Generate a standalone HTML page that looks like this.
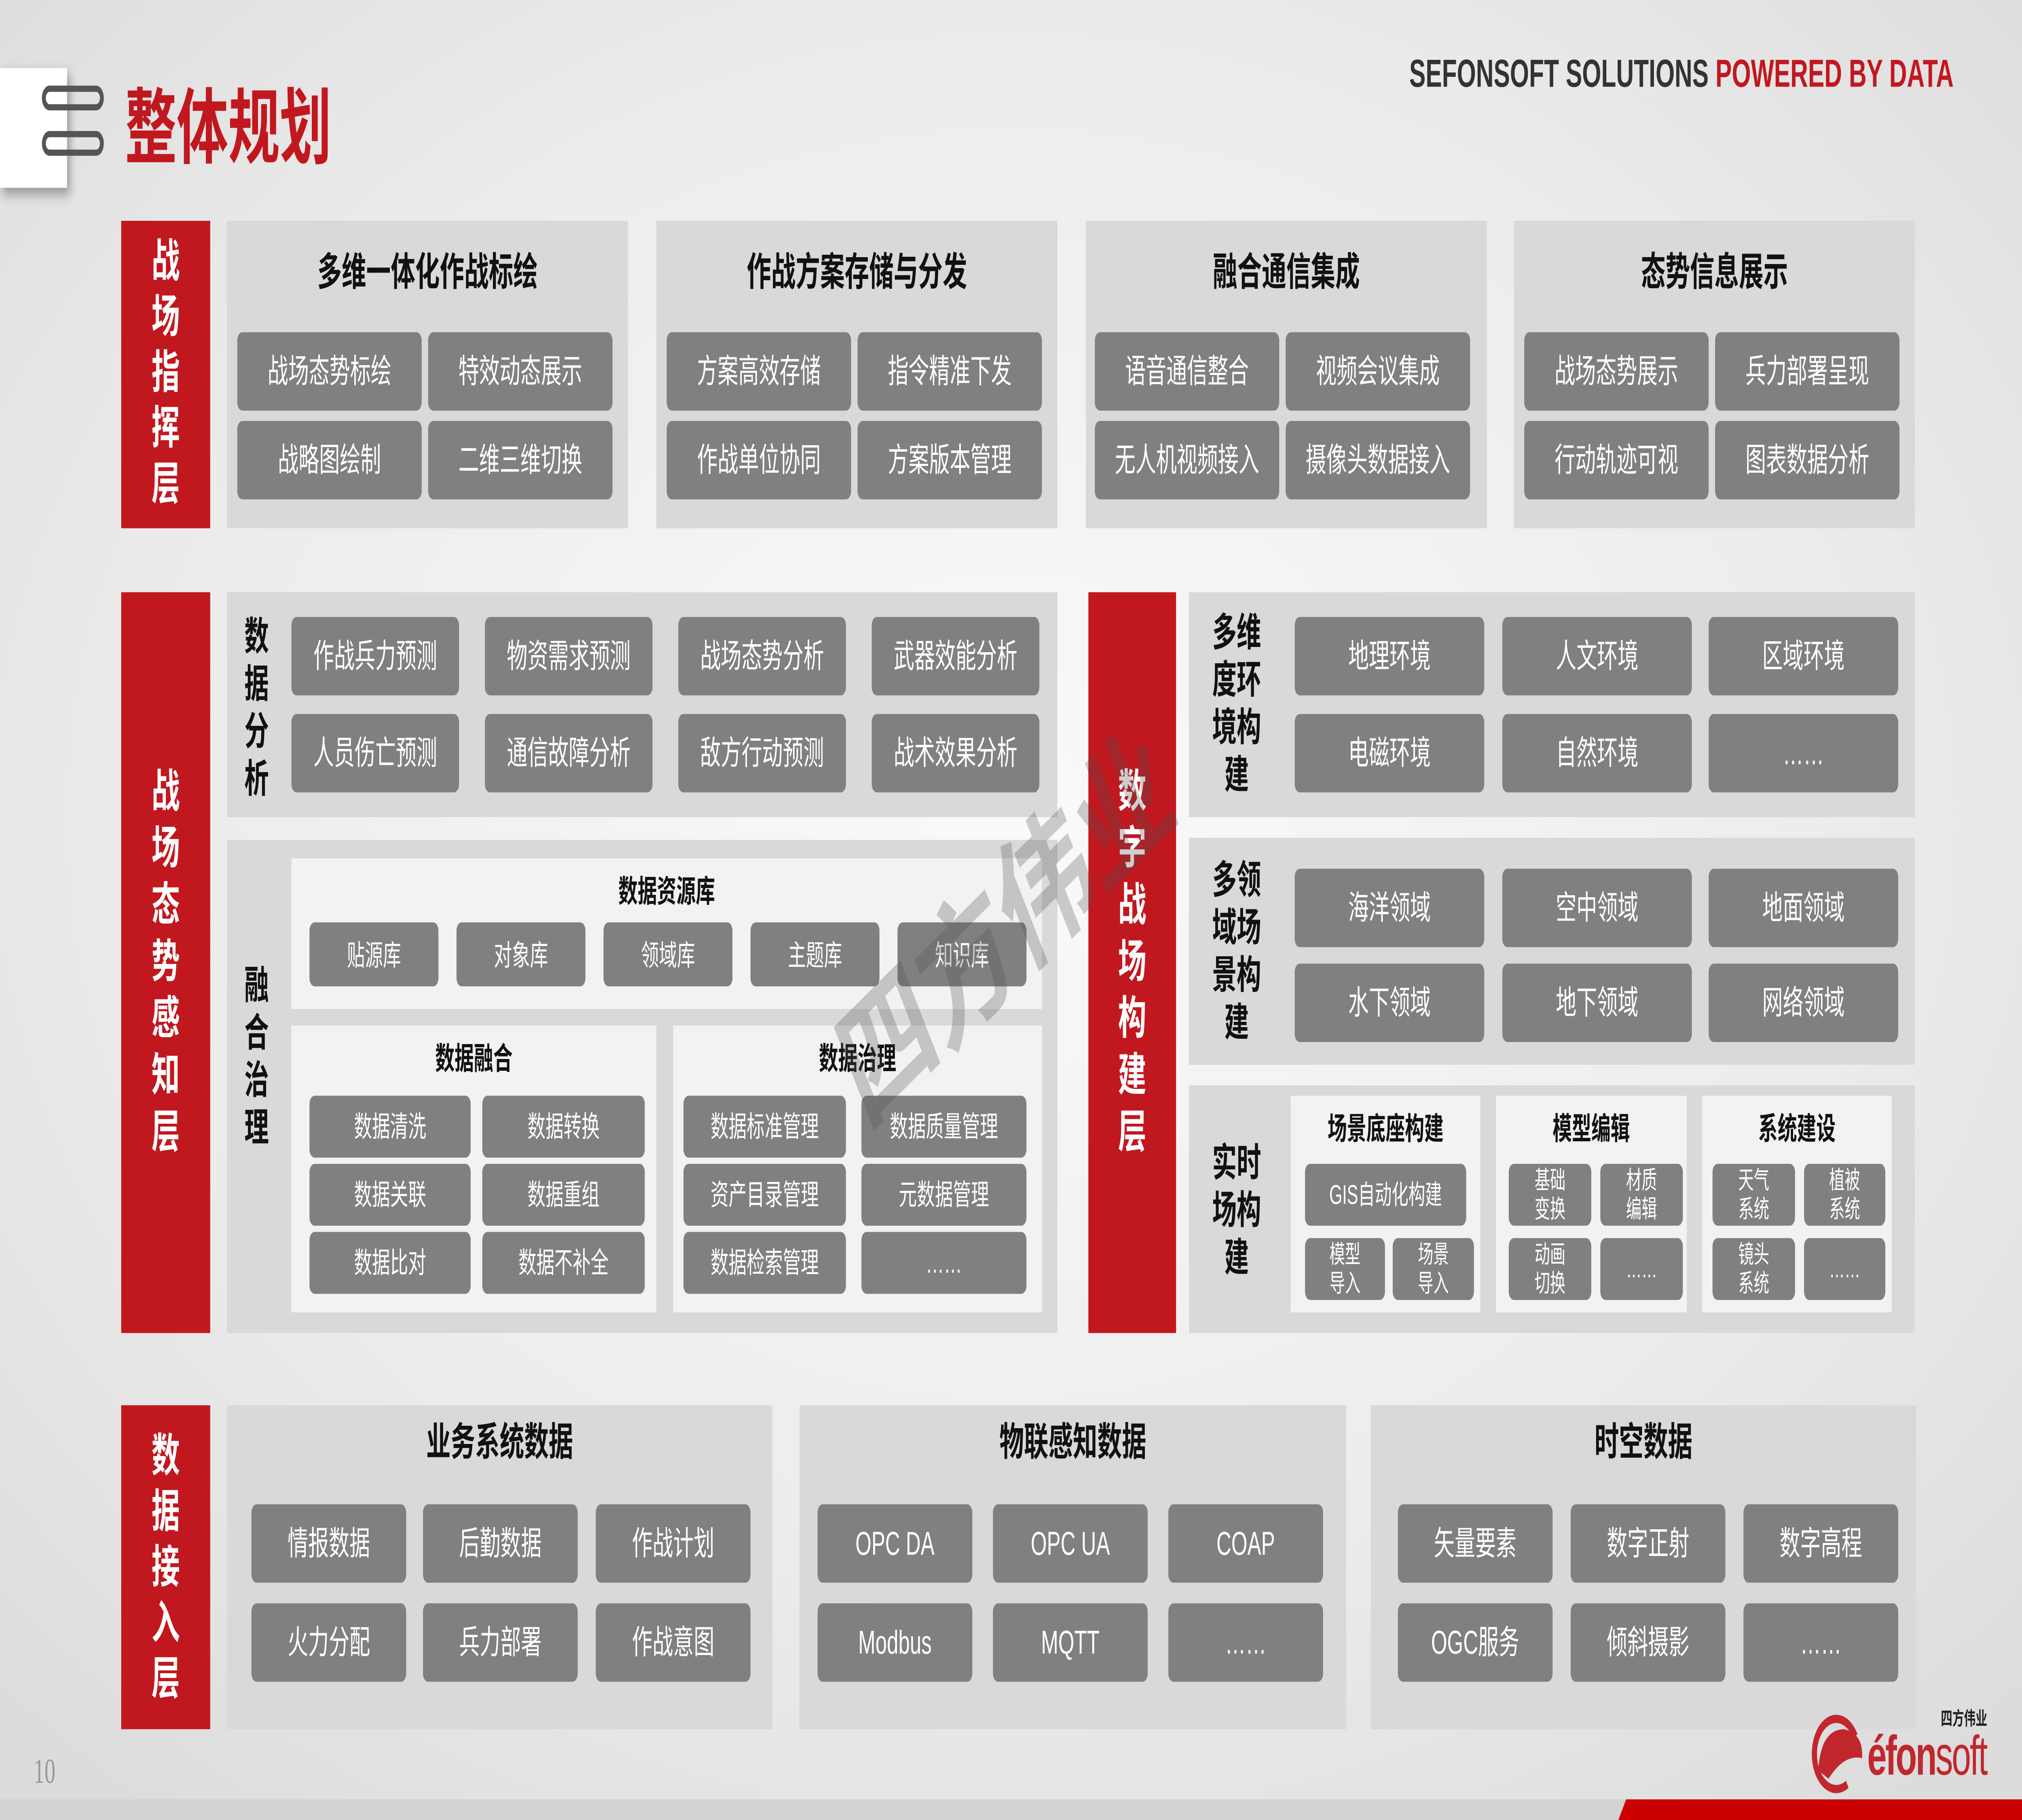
<!DOCTYPE html>
<html><head><meta charset="utf-8"><style>
*{margin:0;padding:0}
html,body{width:100%;height:100%;overflow:hidden;background:#e6e6e6}
svg{display:block;width:100vw;height:100vh}
text{font-family:"Liberation Sans","Noto Sans CJK SC",sans-serif}
.b{fill:#808080}
.p{fill:#d9d9d9}
.w{fill:#f2f2f2}
.r{fill:#c1181f}
.bt{fill:#fff;font-size:16px;text-anchor:middle;dominant-baseline:central}
.mt{fill:#fff;font-size:14px;text-anchor:middle;dominant-baseline:central}
.st{fill:#fff;font-size:12px;text-anchor:middle}
.t{fill:#111;font-size:19px;font-weight:bold;text-anchor:middle;dominant-baseline:central}
.t2{fill:#111;font-size:15px;font-weight:bold;text-anchor:middle;dominant-baseline:central}
.rt{fill:#fff;font-size:22px;font-weight:bold;text-anchor:middle}
.v{fill:#111;font-size:19px;font-weight:bold;text-anchor:middle}
</style></head><body>
<svg viewBox="0 0 1568 882" preserveAspectRatio="none" xmlns="http://www.w3.org/2000/svg">
<defs><radialGradient id="bg" cx="50%" cy="45%" r="70%"><stop offset="0" stop-color="#fafafa"/><stop offset=".6" stop-color="#ececec"/><stop offset="1" stop-color="#dcdcdc"/></radialGradient></defs>
<rect width="1568" height="882" fill="url(#bg)"/>
<!-- header -->
<rect x="0" y="33" width="52" height="58" fill="#fff" style="filter:drop-shadow(2px 3px 3px rgba(0,0,0,.35))"/>
<rect x="34" y="43" width="45" height="9" rx="4.5" fill="none" stroke="#555" stroke-width="3"/>
<rect x="34" y="65" width="45" height="9" rx="4.5" fill="none" stroke="#555" stroke-width="3"/>
<text x="97" y="76" font-size="40" font-weight="bold" fill="#c1181f">整体规划</text>
<text x="1515" y="42" font-size="19" font-weight="bold" fill="#333" text-anchor="end">SEFONSOFT SOLUTIONS <tspan fill="#c1181f">POWERED BY DATA</tspan></text>

<!-- row1 -->
<rect class="r" x="94" y="107" width="69" height="149"/>
<text class="rt" x="128.5" y="134"><tspan x="128.5">战</tspan><tspan x="128.5" dy="27">场</tspan><tspan x="128.5" dy="27">指</tspan><tspan x="128.5" dy="27">挥</tspan><tspan x="128.5" dy="27">层</tspan></text>
<rect class="p" x="176" y="107" width="311" height="149"/>
<rect class="p" x="509" y="107" width="311" height="149"/>
<rect class="p" x="842" y="107" width="311" height="149"/>
<rect class="p" x="1174" y="107" width="311" height="149"/>
<text class="t" x="331.5" y="132">多维一体化作战标绘</text>
<text class="t" x="664.5" y="132">作战方案存储与分发</text>
<text class="t" x="997.5" y="132">融合通信集成</text>
<text class="t" x="1329.5" y="132">态势信息展示</text>
<g>
<rect class="b" x="184" y="161" width="143" height="38" rx="4"/><text class="bt" x="255.5" y="180">战场态势标绘</text>
<rect class="b" x="332" y="161" width="143" height="38" rx="4"/><text class="bt" x="403.5" y="180">特效动态展示</text>
<rect class="b" x="184" y="204" width="143" height="38" rx="4"/><text class="bt" x="255.5" y="223">战略图绘制</text>
<rect class="b" x="332" y="204" width="143" height="38" rx="4"/><text class="bt" x="403.5" y="223">二维三维切换</text>
<rect class="b" x="517" y="161" width="143" height="38" rx="4"/><text class="bt" x="588.5" y="180">方案高效存储</text>
<rect class="b" x="665" y="161" width="143" height="38" rx="4"/><text class="bt" x="736.5" y="180">指令精准下发</text>
<rect class="b" x="517" y="204" width="143" height="38" rx="4"/><text class="bt" x="588.5" y="223">作战单位协同</text>
<rect class="b" x="665" y="204" width="143" height="38" rx="4"/><text class="bt" x="736.5" y="223">方案版本管理</text>
<rect class="b" x="849" y="161" width="143" height="38" rx="4"/><text class="bt" x="920.5" y="180">语音通信整合</text>
<rect class="b" x="997" y="161" width="143" height="38" rx="4"/><text class="bt" x="1068.5" y="180">视频会议集成</text>
<rect class="b" x="849" y="204" width="143" height="38" rx="4"/><text class="bt" x="920.5" y="223">无人机视频接入</text>
<rect class="b" x="997" y="204" width="143" height="38" rx="4"/><text class="bt" x="1068.5" y="223">摄像头数据接入</text>
<rect class="b" x="1182" y="161" width="143" height="38" rx="4"/><text class="bt" x="1253.5" y="180">战场态势展示</text>
<rect class="b" x="1330" y="161" width="143" height="38" rx="4"/><text class="bt" x="1401.5" y="180">兵力部署呈现</text>
<rect class="b" x="1182" y="204" width="143" height="38" rx="4"/><text class="bt" x="1253.5" y="223">行动轨迹可视</text>
<rect class="b" x="1330" y="204" width="143" height="38" rx="4"/><text class="bt" x="1401.5" y="223">图表数据分析</text>
</g>

<!-- row2 left -->
<rect class="r" x="94" y="287" width="69" height="359"/>
<text class="rt" x="128.5" y="391"><tspan x="128.5">战</tspan><tspan x="128.5" dy="27.5">场</tspan><tspan x="128.5" dy="27.5">态</tspan><tspan x="128.5" dy="27.5">势</tspan><tspan x="128.5" dy="27.5">感</tspan><tspan x="128.5" dy="27.5">知</tspan><tspan x="128.5" dy="27.5">层</tspan></text>
<rect class="p" x="176" y="287" width="644" height="109"/>
<text class="v" x="199" y="315"><tspan x="199">数</tspan><tspan x="199" dy="23">据</tspan><tspan x="199" dy="23">分</tspan><tspan x="199" dy="23">析</tspan></text>
<rect class="b" x="226" y="299" width="130" height="38" rx="4"/><text class="bt" x="291" y="318">作战兵力预测</text>
<rect class="b" x="376" y="299" width="130" height="38" rx="4"/><text class="bt" x="441" y="318">物资需求预测</text>
<rect class="b" x="526" y="299" width="130" height="38" rx="4"/><text class="bt" x="591" y="318">战场态势分析</text>
<rect class="b" x="676" y="299" width="130" height="38" rx="4"/><text class="bt" x="741" y="318">武器效能分析</text>
<rect class="b" x="226" y="346" width="130" height="38" rx="4"/><text class="bt" x="291" y="365">人员伤亡预测</text>
<rect class="b" x="376" y="346" width="130" height="38" rx="4"/><text class="bt" x="441" y="365">通信故障分析</text>
<rect class="b" x="526" y="346" width="130" height="38" rx="4"/><text class="bt" x="591" y="365">敌方行动预测</text>
<rect class="b" x="676" y="346" width="130" height="38" rx="4"/><text class="bt" x="741" y="365">战术效果分析</text>
<rect class="p" x="176" y="407" width="644" height="239"/>
<text class="v" x="199" y="484"><tspan x="199">融</tspan><tspan x="199" dy="23">合</tspan><tspan x="199" dy="23">治</tspan><tspan x="199" dy="23">理</tspan></text>
<rect class="w" x="226" y="416" width="582" height="73"/>
<text class="t2" x="517" y="432">数据资源库</text>
<rect class="b" x="240" y="447" width="100" height="31" rx="4"/><text class="mt" x="290" y="463">贴源库</text>
<rect class="b" x="354" y="447" width="100" height="31" rx="4"/><text class="mt" x="404" y="463">对象库</text>
<rect class="b" x="468" y="447" width="100" height="31" rx="4"/><text class="mt" x="518" y="463">领域库</text>
<rect class="b" x="582" y="447" width="100" height="31" rx="4"/><text class="mt" x="632" y="463">主题库</text>
<rect class="b" x="696" y="447" width="100" height="31" rx="4"/><text class="mt" x="746" y="463">知识库</text>
<rect class="w" x="226" y="497" width="283" height="139"/>
<rect class="w" x="522" y="497" width="286" height="139"/>
<text class="t2" x="367.5" y="513">数据融合</text>
<text class="t2" x="665" y="513">数据治理</text>
<rect class="b" x="240" y="531" width="125" height="30" rx="4"/><text class="mt" x="302.5" y="546">数据清洗</text>
<rect class="b" x="374" y="531" width="126" height="30" rx="4"/><text class="mt" x="437" y="546">数据转换</text>
<rect class="b" x="240" y="564" width="125" height="30" rx="4"/><text class="mt" x="302.5" y="579">数据关联</text>
<rect class="b" x="374" y="564" width="126" height="30" rx="4"/><text class="mt" x="437" y="579">数据重组</text>
<rect class="b" x="240" y="597" width="125" height="30" rx="4"/><text class="mt" x="302.5" y="612">数据比对</text>
<rect class="b" x="374" y="597" width="126" height="30" rx="4"/><text class="mt" x="437" y="612">数据不补全</text>
<rect class="b" x="530" y="531" width="126" height="30" rx="4"/><text class="mt" x="593" y="546">数据标准管理</text>
<rect class="b" x="668" y="531" width="128" height="30" rx="4"/><text class="mt" x="732" y="546">数据质量管理</text>
<rect class="b" x="530" y="564" width="126" height="30" rx="4"/><text class="mt" x="593" y="579">资产目录管理</text>
<rect class="b" x="668" y="564" width="128" height="30" rx="4"/><text class="mt" x="732" y="579">元数据管理</text>
<rect class="b" x="530" y="597" width="126" height="30" rx="4"/><text class="mt" x="593" y="612">数据检索管理</text>
<rect class="b" x="668" y="597" width="128" height="30" rx="4"/><text class="mt" x="732" y="612">……</text>

<!-- row2 right -->
<rect class="r" x="844" y="287" width="68" height="359"/>
<text class="rt" x="878" y="391"><tspan x="878">数</tspan><tspan x="878" dy="27.5">字</tspan><tspan x="878" dy="27.5">战</tspan><tspan x="878" dy="27.5">场</tspan><tspan x="878" dy="27.5">构</tspan><tspan x="878" dy="27.5">建</tspan><tspan x="878" dy="27.5">层</tspan></text>
<rect class="p" x="922" y="287" width="563" height="109"/>
<text class="v" x="959" y="313"><tspan x="959">多维</tspan><tspan x="959" dy="23">度环</tspan><tspan x="959" dy="23">境构</tspan><tspan x="959" dy="23">建</tspan></text>
<rect class="b" x="1004" y="299" width="147" height="38" rx="4"/><text class="bt" x="1077.5" y="318">地理环境</text>
<rect class="b" x="1165" y="299" width="147" height="38" rx="4"/><text class="bt" x="1238.5" y="318">人文环境</text>
<rect class="b" x="1325" y="299" width="147" height="38" rx="4"/><text class="bt" x="1398.5" y="318">区域环境</text>
<rect class="b" x="1004" y="346" width="147" height="38" rx="4"/><text class="bt" x="1077.5" y="365">电磁环境</text>
<rect class="b" x="1165" y="346" width="147" height="38" rx="4"/><text class="bt" x="1238.5" y="365">自然环境</text>
<rect class="b" x="1325" y="346" width="147" height="38" rx="4"/><text class="bt" x="1398.5" y="365">……</text>
<rect class="p" x="922" y="406" width="563" height="110"/>
<text class="v" x="959" y="433"><tspan x="959">多领</tspan><tspan x="959" dy="23">域场</tspan><tspan x="959" dy="23">景构</tspan><tspan x="959" dy="23">建</tspan></text>
<rect class="b" x="1004" y="421" width="147" height="38" rx="4"/><text class="bt" x="1077.5" y="440">海洋领域</text>
<rect class="b" x="1165" y="421" width="147" height="38" rx="4"/><text class="bt" x="1238.5" y="440">空中领域</text>
<rect class="b" x="1325" y="421" width="147" height="38" rx="4"/><text class="bt" x="1398.5" y="440">地面领域</text>
<rect class="b" x="1004" y="467" width="147" height="38" rx="4"/><text class="bt" x="1077.5" y="486">水下领域</text>
<rect class="b" x="1165" y="467" width="147" height="38" rx="4"/><text class="bt" x="1238.5" y="486">地下领域</text>
<rect class="b" x="1325" y="467" width="147" height="38" rx="4"/><text class="bt" x="1398.5" y="486">网络领域</text>
<rect class="p" x="922" y="526" width="563" height="120"/>
<text class="v" x="959" y="570"><tspan x="959">实时</tspan><tspan x="959" dy="23">场构</tspan><tspan x="959" dy="23">建</tspan></text>
<rect class="w" x="1001" y="531" width="147" height="105"/>
<rect class="w" x="1160" y="531" width="148" height="105"/>
<rect class="w" x="1320" y="531" width="147" height="105"/>
<text class="t2" x="1074.5" y="547">场景底座构建</text>
<text class="t2" x="1234" y="547">模型编辑</text>
<text class="t2" x="1393.5" y="547">系统建设</text>
<rect class="b" x="1012" y="564" width="125" height="30" rx="4"/><text class="bt" x="1074.5" y="579" style="font-size:13px">GIS自动化构建</text>
<rect class="b" x="1012" y="600" width="62" height="30" rx="4"/><text class="st" x="1043" y="612">模型<tspan x="1043" dy="14">导入</tspan></text>
<rect class="b" x="1080" y="600" width="63" height="30" rx="4"/><text class="st" x="1111.5" y="612">场景<tspan x="1111.5" dy="14">导入</tspan></text>
<rect class="b" x="1170" y="564" width="64" height="30" rx="4"/><text class="st" x="1202" y="576">基础<tspan x="1202" dy="14">变换</tspan></text>
<rect class="b" x="1241" y="564" width="64" height="30" rx="4"/><text class="st" x="1273" y="576">材质<tspan x="1273" dy="14">编辑</tspan></text>
<rect class="b" x="1170" y="600" width="64" height="30" rx="4"/><text class="st" x="1202" y="612">动画<tspan x="1202" dy="14">切换</tspan></text>
<rect class="b" x="1241" y="600" width="64" height="30" rx="4"/><text class="st" x="1273" y="619">……</text>
<rect class="b" x="1328" y="564" width="64" height="30" rx="4"/><text class="st" x="1360" y="576">天气<tspan x="1360" dy="14">系统</tspan></text>
<rect class="b" x="1399" y="564" width="63" height="30" rx="4"/><text class="st" x="1430.5" y="576">植被<tspan x="1430.5" dy="14">系统</tspan></text>
<rect class="b" x="1328" y="600" width="64" height="30" rx="4"/><text class="st" x="1360" y="612">镜头<tspan x="1360" dy="14">系统</tspan></text>
<rect class="b" x="1399" y="600" width="63" height="30" rx="4"/><text class="st" x="1430.5" y="619">……</text>

<!-- row3 -->
<rect class="r" x="94" y="681" width="69" height="157"/>
<text class="rt" x="128.5" y="713"><tspan x="128.5">数</tspan><tspan x="128.5" dy="27">据</tspan><tspan x="128.5" dy="27">接</tspan><tspan x="128.5" dy="27">入</tspan><tspan x="128.5" dy="27">层</tspan></text>
<rect class="p" x="176" y="681" width="423" height="157"/>
<rect class="p" x="620" y="681" width="424" height="157"/>
<rect class="p" x="1063" y="681" width="423" height="157"/>
<text class="t" x="387.5" y="699">业务系统数据</text>
<text class="t" x="832" y="699">物联感知数据</text>
<text class="t" x="1274.5" y="699">时空数据</text>
<rect class="b" x="195" y="729" width="120" height="38" rx="4"/><text class="bt" x="255" y="748">情报数据</text>
<rect class="b" x="328" y="729" width="120" height="38" rx="4"/><text class="bt" x="388" y="748">后勤数据</text>
<rect class="b" x="462" y="729" width="120" height="38" rx="4"/><text class="bt" x="522" y="748">作战计划</text>
<rect class="b" x="195" y="777" width="120" height="38" rx="4"/><text class="bt" x="255" y="796">火力分配</text>
<rect class="b" x="328" y="777" width="120" height="38" rx="4"/><text class="bt" x="388" y="796">兵力部署</text>
<rect class="b" x="462" y="777" width="120" height="38" rx="4"/><text class="bt" x="522" y="796">作战意图</text>
<rect class="b" x="634" y="729" width="120" height="38" rx="4"/><text class="bt" x="694" y="748">OPC DA</text>
<rect class="b" x="770" y="729" width="120" height="38" rx="4"/><text class="bt" x="830" y="748">OPC UA</text>
<rect class="b" x="906" y="729" width="120" height="38" rx="4"/><text class="bt" x="966" y="748">COAP</text>
<rect class="b" x="634" y="777" width="120" height="38" rx="4"/><text class="bt" x="694" y="796">Modbus</text>
<rect class="b" x="770" y="777" width="120" height="38" rx="4"/><text class="bt" x="830" y="796">MQTT</text>
<rect class="b" x="906" y="777" width="120" height="38" rx="4"/><text class="bt" x="966" y="796">……</text>
<rect class="b" x="1084" y="729" width="120" height="38" rx="4"/><text class="bt" x="1144" y="748">矢量要素</text>
<rect class="b" x="1218" y="729" width="120" height="38" rx="4"/><text class="bt" x="1278" y="748">数字正射</text>
<rect class="b" x="1352" y="729" width="120" height="38" rx="4"/><text class="bt" x="1412" y="748">数字高程</text>
<rect class="b" x="1084" y="777" width="120" height="38" rx="4"/><text class="bt" x="1144" y="796">OGC服务</text>
<rect class="b" x="1218" y="777" width="120" height="38" rx="4"/><text class="bt" x="1278" y="796">倾斜摄影</text>
<rect class="b" x="1352" y="777" width="120" height="38" rx="4"/><text class="bt" x="1412" y="796">……</text>

<!-- watermark -->
<text x="780" y="450" font-size="72" font-weight="bold" fill="rgba(80,80,80,.28)" text-anchor="middle" dominant-baseline="central" transform="rotate(-32 780 450)">四方伟业</text>

<!-- footer -->
<text x="26" y="864" font-size="17" fill="#999" style="font-family:'Liberation Serif',serif">10</text>
<rect x="0" y="872" width="1568" height="10" fill="#d2d2d2"/>
<polygon points="1261,872 1568,872 1568,882 1255,882" fill="#cc0000"/>
<text x="1541" y="836" font-size="9" font-weight="bold" fill="#222" text-anchor="end">四方伟业</text>
<circle cx="1424" cy="850" r="17" fill="none" stroke="#c1272d" stroke-width="4" stroke-dasharray="80 30" transform="rotate(60 1424 850)"/>
<path d="M1410 858 Q1412 838 1430 838 Q1445 840 1444 852 Q1430 850 1418 862 Z" fill="#c1272d"/>
<text x="1448" y="860" font-size="27" fill="#c1272d" letter-spacing="-1"><tspan font-weight="bold">éfon</tspan>soft</text>
</svg>
</body></html>
